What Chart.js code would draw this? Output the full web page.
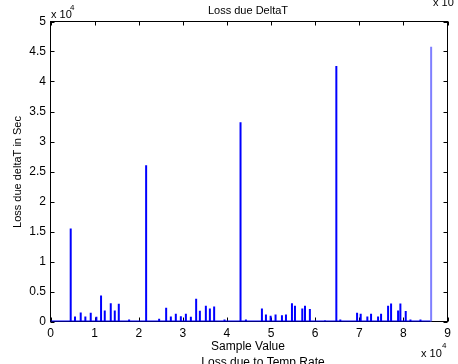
<!DOCTYPE html>
<html>
<head>
<meta charset="utf-8">
<script src="https://cdn.jsdelivr.net/npm/chart.js@4.4.0/dist/chart.umd.min.js"></script>
<style>
  html, body { margin: 0; padding: 0; background: #fff; overflow: hidden; }
</style>
</head>
<body>
<canvas id="chart" width="458" height="364"></canvas>
<script>
// spike positions (sample value) and loss in sec
const spikeX = [4580, 5560, 6850, 7900, 9120, 10400, 11460, 12300, 13660, 14570, 15480, 17820,
  21680, 24630, 26220, 27280, 28410, 29550, 30690, 31820, 33020, 33860, 35220, 36130, 37100, 39450,
  43080, 44300, 47930, 48840, 49900, 51020, 52470, 53380, 54740, 55420, 57080, 57690, 58800, 62230,
  64800, 65700, 69500, 70320, 71830, 72670, 74260, 74940, 76530, 77210, 78800, 79320, 80530, 81600,
  83870, 86290];
const spikeY = [15480, 830, 1500, 830, 1450, 800, 4340, 1840, 3060, 1840, 2950, 330,
  26040, 450, 2290, 830, 1280, 890, 1280, 780, 3780, 1780, 2620, 2170, 2500, 330,
  33200, 330, 2170, 1170, 950, 1170, 1060, 1170, 3060, 2620, 2170, 2620, 2100, 220,
  42570, 330, 1450, 1280, 830, 1280, 830, 1280, 2620, 3010, 1840, 3010, 1730, 330,
  330, 45800];
const xTicks = [0, 10000, 20000, 30000, 40000, 50000, 60000, 70000, 80000, 90000];
const yTicks = [0, 5000, 10000, 15000, 20000, 25000, 30000, 35000, 40000, 45000, 50000];

const chartTitle = 'Loss due DeltaT';
const xTitle = 'Sample Value';
const yTitle = 'Loss due deltaT in Sec';
const nextTitle = 'Loss due to Temp Rate';

// the signal sits on zero between spikes
let points = [{x: 0, y: 0}];
for (let i = 0; i < spikeX.length; i++) {
  points.push({x: spikeX[i], y: 0});
  points.push({x: spikeX[i], y: spikeY[i]});
  points.push({x: spikeX[i], y: 0});
}
const lastSeg = points.length - 3;

const FONT = '"Liberation Sans", Arial, sans-serif';

const boxPlugin = {
  id: 'box',
  beforeDatasetsDraw(chart) {
    const a = chart.chartArea;
    const c = chart.ctx;
    const xs = chart.scales.x, ys = chart.scales.y;
    c.save();
    c.strokeStyle = '#000';
    c.lineWidth = 1;
    c.strokeRect(a.left, a.top, a.right - a.left, a.bottom - a.top);
    c.beginPath();
    for (let v of xTicks) {
      let px = Math.round(xs.getPixelForValue(v)) + 0.5;
      c.moveTo(px, a.bottom); c.lineTo(px, a.bottom - 4);
      c.moveTo(px, a.top); c.lineTo(px, a.top + 4);
    }
    for (let v of yTicks) {
      let py = Math.round(ys.getPixelForValue(v)) + 0.5;
      c.moveTo(a.left, py); c.lineTo(a.left + 4, py);
      c.moveTo(a.right, py); c.lineTo(a.right - 4, py);
    }
    c.stroke();
    c.restore();
  },
  afterDraw(chart) {
    const c = chart.ctx;
    c.save();
    c.fillStyle = '#000';
    c.textBaseline = 'middle';
    c.textAlign = 'center';
    c.font = '11px ' + FONT;
    c.fillText(chartTitle, 248, 11);
    c.font = '12px ' + FONT;
    c.fillText(xTitle, 248, 347);
    c.fillText(nextTitle, 263, 363);
    c.save();
    c.translate(18, 172);
    c.rotate(-Math.PI / 2);
    c.font = '11px ' + FONT;
    c.fillText(yTitle, 0, 0);
    c.restore();
    // exponent labels
    c.textAlign = 'left';
    c.font = '11px ' + FONT;
    c.fillText('x 10', 51, 15);
    c.fillText('x 10', 421, 354);
    c.fillText('x 10', 433, 3);
    c.font = '8px ' + FONT;
    c.fillText('4', 70, 8);
    c.fillText('4', 442, 346);
    c.restore();
  }
};

new Chart(document.getElementById('chart'), {
  type: 'scatter',
  data: {
    datasets: [{
      data: points,
      showLine: true,
      borderColor: '#0000ff',
      borderWidth: 2,
      pointRadius: 0,
      segment: {
        borderColor: ctx => ctx.p0DataIndex >= lastSeg ? '#7f7fff' : undefined
      }
    }]
  },
  options: {
    responsive: false,
    animation: false,
    layout: { padding: { left: 0, top: 21.5, right: 10.5, bottom: 0 } },
    plugins: { legend: { display: false }, tooltip: { enabled: false } },
    scales: {
      x: {
        type: 'linear', min: 0, max: 90000,
        afterBuildTicks(s) { s.ticks = xTicks.map(v => ({value: v})); },
        afterFit(s) { s.height = 42.5; },
        grid: { display: false, drawTicks: false },
        border: { display: false },
        ticks: {
          color: '#000', padding: 5, maxRotation: 0, autoSkip: false,
          font: { family: FONT, size: 12 },
          callback: v => String(v / 10000)
        }
      },
      y: {
        type: 'linear', min: 0, max: 50000,
        afterBuildTicks(s) { s.ticks = yTicks.map(v => ({value: v})); },
        afterFit(s) { s.width = 50.5; },
        grid: { display: false, drawTicks: false },
        border: { display: false },
        ticks: {
          color: '#000', padding: 4.5, autoSkip: false,
          font: { family: FONT, size: 12 },
          callback: v => String(v / 10000)
        }
      }
    }
  },
  plugins: [boxPlugin]
});
</script>
</body>
</html>
